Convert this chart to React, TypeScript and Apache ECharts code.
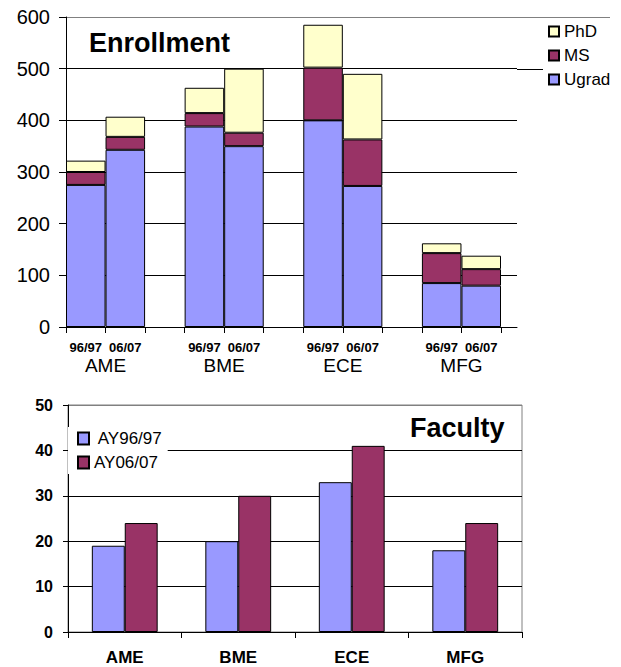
import React, { useEffect, useRef } from 'react';
import * as echarts from 'echarts';

// ---------- Enrollment data ----------
const departments = ['AME', 'BME', 'ECE', 'MFG'];
const years = ['96/97', '06/07'];
const ugrad9697 = [275, 388, 400, 85];
const ugrad0607 = [343, 350, 273, 80];
const ms9697 = [25, 26, 102, 58];
const ms0607 = [25, 26, 90, 32];
const phd9697 = [22, 49, 83, 19];
const phd0607 = [39, 124, 127, 26];
const enrollLegend = ['PhD', 'MS', 'Ugrad'];

// ---------- Faculty data ----------
const facultyNames = [' AY96/97', 'AY06/07'];
const faculty9697 = [19, 20, 33, 18];
const faculty0607 = [24, 30, 41, 24];

const FONT = '"Liberation Sans", Arial, Helvetica, sans-serif';
const C_UG = '#9999FF';
const C_MS = '#993366';
const C_PHD = '#FFFFCC';

// slot layout: dept96, dept06, blank, ...
function buildSlots<T>(a: T[], b: T[], blank: T): T[] {
  const out: T[] = [];
  departments.forEach((_, i) => {
    out.push(a[i], b[i]);
    if (i < departments.length - 1) out.push(blank);
  });
  return out;
}

const slotLabels = buildSlots(
  departments.map(() => years[0]),
  departments.map(() => years[1]),
  ''
);
const groupLabelAt: Record<number, string> = {};
departments.forEach((d, i) => {
  groupLabelAt[i * 3 + 1] = d;
});

export default function App() {
  const ref = useRef<HTMLDivElement>(null);
  useEffect(() => {
    if (!ref.current) return;
    const chart = echarts.init(ref.current, undefined, { renderer: 'svg' });
    const barStyle = (color: string) => ({
      color,
      borderColor: '#000',
      borderWidth: 1,
    });
    const topSplitColors = ['#000', '#000', '#000', '#000', '#000', '#000', '#808080'];
    const botSplitColors = ['#000', '#000', '#000', '#000', '#000', '#808080'];

    chart.setOption({
      animation: false,
      backgroundColor: '#fff',
      textStyle: { fontFamily: FONT },
      grid: [
        { left: 66, right: 120, top: 17, height: 310 },
        { left: 66, right: 104, top: 17, height: 310 },
        {
          left: 68,
          right: 99,
          top: 405,
          height: 227,
          show: true,
          borderColor: '#808080',
          borderWidth: 1,
          backgroundColor: 'transparent',
        },
      ],
      xAxis: [
        {
          type: 'category',
          gridIndex: 0,
          data: slotLabels,
          axisLine: { show: true, lineStyle: { color: '#000', width: 1 } },
          axisTick: { show: true, length: 6, interval: 0 },
          axisLabel: {
            interval: 0,
            margin: 14,
            fontSize: 13,
            lineHeight: 13,
            fontWeight: 'bold',
            color: '#000',
            fontFamily: FONT,
          },
          splitLine: { show: false },
        },
        {
          type: 'value',
          gridIndex: 0,
          min: 0,
          max: slotLabels.length,
          interval: 1,
          position: 'bottom',
          axisLine: { show: false },
          axisTick: { show: false },
          splitLine: { show: false },
          axisLabel: {
            margin: 29,
            fontSize: 19,
            lineHeight: 19,
            color: '#000',
            fontFamily: FONT,
            showMinLabel: true,
            showMaxLabel: true,
            formatter: (v: number) => groupLabelAt[Math.round(v)] || '',
          },
        },
        {
          type: 'category',
          gridIndex: 1,
          data: [''],
          axisLine: { show: true, lineStyle: { color: '#000', width: 1 } },
          axisTick: { show: false },
          axisLabel: { show: false },
          splitLine: { show: false },
        },
        {
          type: 'category',
          gridIndex: 2,
          data: departments,
          axisLine: { show: true, lineStyle: { color: '#000', width: 1 } },
          axisTick: { show: true, length: 6, interval: 0 },
          axisLabel: {
            interval: 0,
            margin: 17,
            fontSize: 17,
            fontWeight: 'bold',
            color: '#000',
            fontFamily: FONT,
          },
          splitLine: { show: false },
        },
      ],
      yAxis: [
        { type: 'value', gridIndex: 0, min: 0, max: 600, interval: 100, show: false },
        {
          type: 'value',
          gridIndex: 1,
          min: 0,
          max: 600,
          interval: 100,
          axisLine: { show: true, lineStyle: { color: '#000', width: 1 } },
          axisTick: { show: true, length: 7, lineStyle: { color: '#000' } },
          axisLabel: { margin: 16, fontSize: 20, color: '#000', fontFamily: FONT },
          splitLine: { show: true, lineStyle: { color: topSplitColors, width: 1 } },
        },
        {
          type: 'value',
          gridIndex: 2,
          min: 0,
          max: 50,
          interval: 10,
          axisLine: { show: true, lineStyle: { color: '#000', width: 1 } },
          axisTick: { show: true, length: 5, lineStyle: { color: '#000' } },
          axisLabel: {
            margin: 15,
            fontSize: 16,
            fontWeight: 'bold',
            color: '#000',
            fontFamily: FONT,
          },
          splitLine: { show: true, lineStyle: { color: botSplitColors, width: 1 } },
        },
      ],
      legend: [
        {
          data: enrollLegend,
          orient: 'vertical',
          left: 548,
          top: 23,
          padding: 0,
          itemWidth: 10,
          itemHeight: 10,
          itemGap: 7,
          icon: 'rect',
          textStyle: { fontSize: 17, lineHeight: 17, color: '#000', fontFamily: FONT },
        },
        {
          data: facultyNames,
          orient: 'vertical',
          left: 68,
          top: 427,
          padding: [3, 5, 3, 9],
          backgroundColor: '#fff',
          itemWidth: 11,
          itemHeight: 12,
          itemGap: 7,
          icon: 'rect',
          textStyle: { fontSize: 17, lineHeight: 17, color: '#000', fontFamily: FONT },
        },
      ],
      series: [
        {
          name: 'Ugrad',
          type: 'bar',
          stack: 'enroll',
          xAxisIndex: 0,
          yAxisIndex: 0,
          barCategoryGap: '0%',
          data: buildSlots(ugrad9697, ugrad0607, null as any),
          itemStyle: barStyle(C_UG),
        },
        {
          name: 'MS',
          type: 'bar',
          stack: 'enroll',
          xAxisIndex: 0,
          yAxisIndex: 0,
          barCategoryGap: '0%',
          data: buildSlots(ms9697, ms0607, null as any),
          itemStyle: barStyle(C_MS),
        },
        {
          name: 'PhD',
          type: 'bar',
          stack: 'enroll',
          xAxisIndex: 0,
          yAxisIndex: 0,
          barCategoryGap: '0%',
          data: buildSlots(phd9697, phd0607, null as any),
          itemStyle: barStyle(C_PHD),
        },
        {
          name: facultyNames[0],
          type: 'bar',
          xAxisIndex: 3,
          yAxisIndex: 2,
          barGap: '0%',
          barCategoryGap: '42%',
          data: faculty9697,
          itemStyle: barStyle(C_UG),
        },
        {
          name: facultyNames[1],
          type: 'bar',
          xAxisIndex: 3,
          yAxisIndex: 2,
          barGap: '0%',
          barCategoryGap: '42%',
          data: faculty0607,
          itemStyle: barStyle(C_MS),
        },
      ],
    });

    // extensions of the top border and 500 gridline beyond the plot (as in reference)
    const yTop = Math.round(chart.convertToPixel({ yAxisIndex: 1 }, 600) as number) + 0.5;
    const y500 = Math.round(chart.convertToPixel({ yAxisIndex: 1 }, 500) as number) + 0.5;
    chart.setOption({
      graphic: [
        {
          id: 'titleEnroll',
          type: 'text',
          x: 89,
          y: 43,
          style: {
            text: 'Enrollment',
            fontSize: 27,
            fontWeight: 'bold',
            fontFamily: FONT,
            fill: '#000',
            verticalAlign: 'middle',
          },
        },
        {
          id: 'titleFaculty',
          type: 'text',
          x: 410,
          y: 428,
          z: 100,
          style: {
            text: 'Faculty',
            fontSize: 27,
            fontWeight: 'bold',
            fontFamily: FONT,
            fill: '#000',
            verticalAlign: 'middle',
          },
        },
        {
          id: 'extTop',
          type: 'line',
          shape: { x1: 517, y1: yTop, x2: 610, y2: yTop },
          style: { stroke: '#808080', lineWidth: 1 },
        },
        {
          id: 'ext500',
          type: 'line',
          shape: { x1: 517, y1: y500, x2: 543, y2: y500 },
          style: { stroke: '#000', lineWidth: 1 },
        },
      ],
    });

    return () => chart.dispose();
  }, []);
  return (
    <div
      ref={ref}
      style={{ position: 'absolute', left: 0, top: 0, width: 621, height: 667 }}
    />
  );
}
